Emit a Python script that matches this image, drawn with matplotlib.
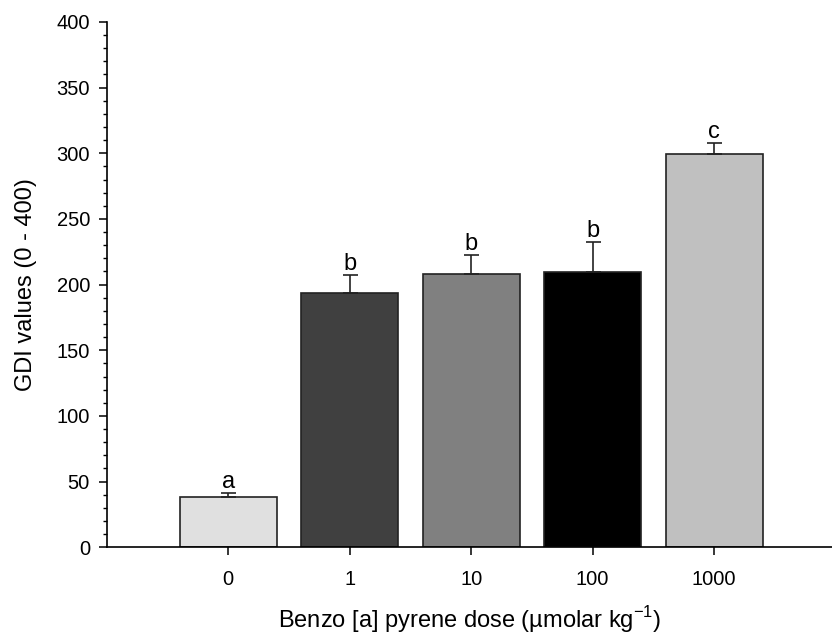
import numpy as np
import matplotlib.pyplot as plt
from matplotlib.ticker import MultipleLocator

plt.rcParams['font.family'] = ['Liberation Sans', 'DejaVu Sans']
plt.rcParams['mathtext.fontset'] = 'custom'
plt.rcParams['mathtext.rm'] = 'Liberation Sans'

doses = ['0', '1', '10', '100', '1000']
gdi = [38.6, 193.8, 208.1, 209.3, 299.5]
err = [2.8, 13.5, 14.7, 23.2, 8.7]
groups = ['a', 'b', 'b', 'b', 'c']
colors = ['#e0e0e0', '#404040', '#808080', '#000000', '#c0c0c0']

fig = plt.figure(figsize=(8.32, 6.36), dpi=100)
ax = fig.add_axes([0.1282, 0.1395, 0.8718, 0.826])

x = np.arange(len(doses))
ax.bar(x, gdi, width=0.8, color=colors, edgecolor='#222222', linewidth=1.2, zorder=2)
ax.errorbar(x, gdi, yerr=[np.zeros(len(err)), err], fmt='none', ecolor='#222222',
            elinewidth=1.2, capsize=5.4, capthick=1.2, zorder=3)

# significance letters above the error caps
for xi, v, e, g in zip(x, gdi, err, groups):
    ax.annotate(g, (xi, v + e), xytext=(0, 0), textcoords='offset points',
                ha='center', va='bottom', fontsize=17)

ax.set_xlim(-1, 4.97)
ax.set_ylim(0, 400)
ax.set_xticks(x)
ax.set_xticklabels(doses)
ax.yaxis.set_major_locator(MultipleLocator(50))
ax.yaxis.set_minor_locator(MultipleLocator(10))

for s in ['top', 'right']:
    ax.spines[s].set_visible(False)
for s in ['left', 'bottom']:
    ax.spines[s].set_linewidth(1.2)

ax.tick_params(axis='both', which='major', direction='out', length=6, width=1.1,
               labelsize=14.5, pad=6)
ax.tick_params(axis='x', which='major', pad=10)
ax.tick_params(axis='y', which='minor', direction='out', length=3, width=1.0)

ax.set_ylabel('GDI values (0 - 400)', fontsize=17, labelpad=14)
ax.set_xlabel('Benzo [a] pyrene dose (\u00b5molar kg$^{\\mathregular{-1}}$)', fontsize=17, labelpad=11)

fig.savefig('out.png', dpi=100)
